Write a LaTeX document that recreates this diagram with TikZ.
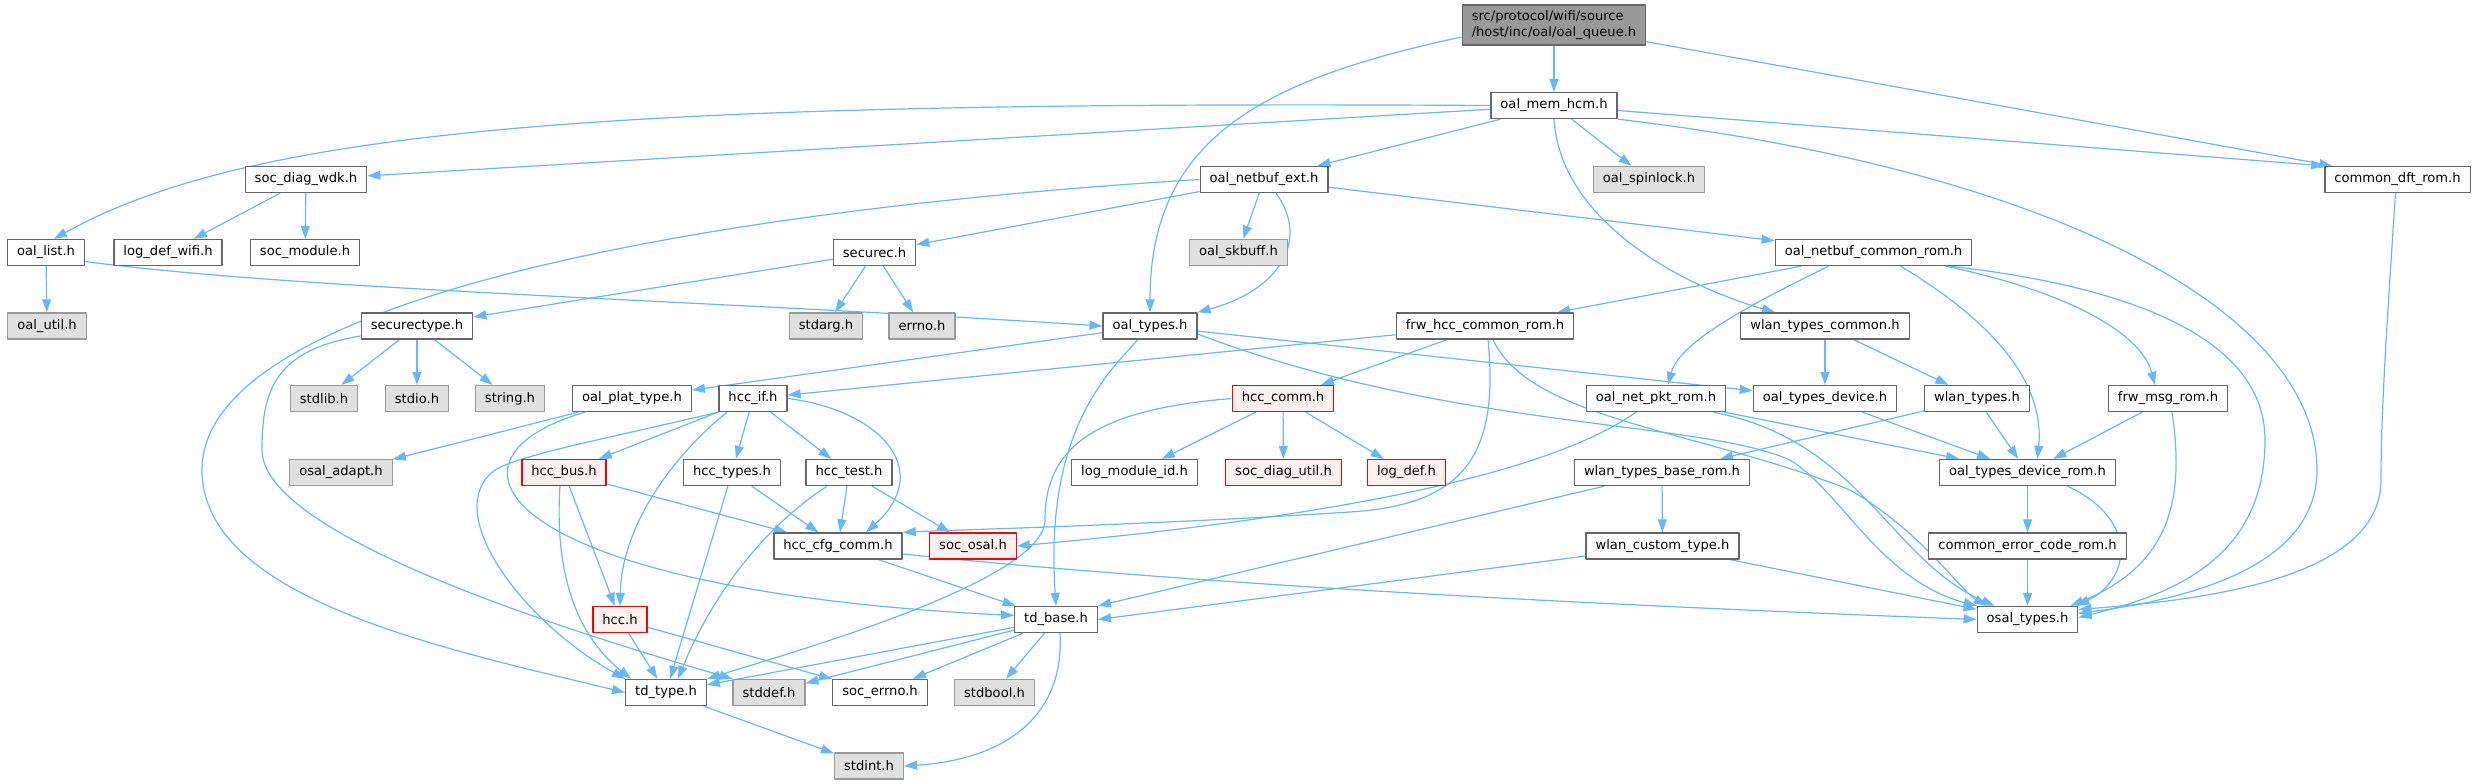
\documentclass[tikz,border=0pt]{standalone}
\usepackage{fontspec}
\setmainfont{DejaVu Sans}
\usepackage{tikz}
\usetikzlibrary{arrows.meta, backgrounds}
\usepackage{xcolor}
\definecolor{incblue}{HTML}{63B8FF}
\definecolor{hdrborder}{HTML}{666666}
\definecolor{sysborder}{HTML}{999999}
\definecolor{sysfill}{HTML}{E0E0E0}
\definecolor{cutborder}{HTML}{FF0000}
\definecolor{cutfill}{HTML}{FFF0F0}
\definecolor{rootfill}{HTML}{999999}

\begin{document}
\begin{tikzpicture}[x=1pt, y=-1pt, line cap=round, line join=round, >={Triangle[length=13pt,width=9pt]},
	hdr/.style={draw=hdrborder, fill=white, line width=1.3pt, inner xsep=9.5pt, inner ysep=3pt, minimum height=26pt, font=\fontsize{13.1}{15.3}\selectfont},
	sys/.style={hdr, draw=sysborder, fill=sysfill},
	cut/.style={hdr, draw=cutborder, fill=cutfill},
	root/.style={hdr, fill=rootfill, minimum height=40pt, align=left},
	inc/.style={->, draw=incblue, line width=1.2pt}]
	\useasboundingbox (0,0) rectangle (2477,784);

	% header files
	\node[root] (top) at (1554,25) {src/protocol/wifi/source\\/host/inc/oal/oal\_queue.h};
	\node[hdr] (memhcm) at (1554,105.5) {oal\_mem\_hcm.h};

	\node[hdr] (socdiagwdk) at (306,179.5) {soc\_diag\_wdk.h};
	\node[hdr] (netbufext) at (1264,179.5) {oal\_netbuf\_ext.h};
	\node[sys] (spinlock) at (1649,179.5) {oal\_spinlock.h};
	\node[hdr] (dftrom) at (2397.5,179.5) {common\_dft\_rom.h};

	\node[hdr] (oallist) at (46,252.5) {oal\_list.h};
	\node[hdr] (logdefwifi) at (168,252.5) {log\_def\_wifi.h};
	\node[hdr] (socmodule) at (305,252.5) {soc\_module.h};
	\node[hdr] (securec) at (874.5,252.5) {securec.h};
	\node[sys] (skbuff) at (1238.5,252.5) {oal\_skbuff.h};
	\node[hdr] (netbufcommon) at (1873.5,252.5) {oal\_netbuf\_common\_rom.h};

	\node[sys] (oalutil) at (47,326) {oal\_util.h};
	\node[hdr] (securectype) at (417,326) {securectype.h};
	\node[sys] (stdarg) at (826,326) {stdarg.h};
	\node[sys] (errno) at (922,326) {errno.h};
	\node[hdr] (oaltypes) at (1150,326) {oal\_types.h};
	\node[hdr] (frwhcc) at (1485,326) {frw\_hcc\_common\_rom.h};
	\node[hdr] (wlancommon) at (1825,326) {wlan\_types\_common.h};

	\node[sys] (stdlib) at (324,398.5) {stdlib.h};
	\node[sys] (stdio) at (417,398.5) {stdio.h};
	\node[sys] (string) at (510,398.5) {string.h};
	\node[hdr] (plattype) at (632,398.5) {oal\_plat\_type.h};
	\node[hdr] (hccif) at (753,398.5) {hcc\_if.h};
	\node[cut] (hcccomm) at (1283,398.5) {hcc\_comm.h};
	\node[hdr] (netpkt) at (1656,398.5) {oal\_net\_pkt\_rom.h};
	\node[hdr] (typesdevice) at (1825,398.5) {oal\_types\_device.h};
	\node[hdr] (wlantypes) at (1977,398.5) {wlan\_types.h};
	\node[hdr] (frwmsg) at (2168,398.5) {frw\_msg\_rom.h};

	\node[sys] (osaladapt) at (341,472.5) {osal\_adapt.h};
	\node[cut] (hccbus) at (564,472.5) {hcc\_bus.h};
	\node[hdr] (hcctypes) at (732,472.5) {hcc\_types.h};
	\node[hdr] (hcctest) at (849,472.5) {hcc\_test.h};
	\node[hdr] (logmodule) at (1134.5,472.5) {log\_module\_id.h};
	\node[cut] (socdiagutil) at (1283.5,472.5) {soc\_diag\_util.h};
	\node[cut] (logdef) at (1406.5,472.5) {log\_def.h};
	\node[hdr] (wlanbase) at (1662,472.5) {wlan\_types\_base\_rom.h};
	\node[hdr] (devicerom) at (2027.5,472.5) {oal\_types\_device\_rom.h};

	\node[hdr] (hcccfg) at (838,546) {hcc\_cfg\_comm.h};
	\node[cut] (socosal) at (973,546) {soc\_osal.h};
	\node[hdr] (wlancustom) at (1662.5,546) {wlan\_custom\_type.h};
	\node[hdr] (errcode) at (2027.5,546) {common\_error\_code\_rom.h};

	\node[cut] (hcch) at (620,619.5) {hcc.h};
	\node[hdr] (tdbase) at (1056,619.5) {td\_base.h};
	\node[hdr] (osaltypes) at (2027.5,619.5) {osal\_types.h};

	\node[hdr] (tdtype) at (666,692.5) {td\_type.h};
	\node[sys] (stddef) at (769,692.5) {stddef.h};
	\node[hdr] (socerrno) at (880,692.5) {soc\_errno.h};
	\node[sys] (stdbool) at (994.5,692.5) {stdbool.h};

	\node[sys] (stdint) at (869,766) {stdint.h};

	\begin{scope}[on background layer]
	% straight includes
	\foreach \src/\dst in {top/memhcm, memhcm/socdiagwdk, memhcm/netbufext, memhcm/spinlock,
		socdiagwdk/logdefwifi, socdiagwdk/socmodule, oallist/oalutil,
		netbufext/securec, netbufext/skbuff, netbufext/netbufcommon,
		securec/securectype, securec/stdarg, securec/errno,
		securectype/stdlib, securectype/stdio, securectype/string,
		oaltypes/plattype, oaltypes/typesdevice, frwhcc/hccif, frwhcc/hcccomm,
		wlancommon/typesdevice, wlancommon/wlantypes, netbufcommon/frwhcc,
		hccif/hccbus, hccif/hcctypes, hccif/hcctest, plattype/osaladapt,
		hcccomm/logmodule, hcccomm/socdiagutil, hcccomm/logdef,
		netpkt/devicerom, typesdevice/devicerom, wlantypes/wlanbase, wlantypes/devicerom, frwmsg/devicerom,
		hccbus/hcccfg, hccbus/hcch, hcctypes/hcccfg, hcctypes/tdtype, hcctest/hcccfg, hcctest/socosal,
		wlanbase/wlancustom, devicerom/errcode, hcccfg/tdbase, wlancustom/osaltypes, errcode/osaltypes,
		hcch/tdtype, hcch/socerrno, tdbase/tdtype, tdbase/stddef, tdbase/socerrno, tdbase/stdbool, tdtype/stdint}
		\draw[inc] (\src) -- (\dst);

	\draw[inc] (top) -- ([xshift=8pt]dftrom.north west);
	\draw[inc] (memhcm) -- (dftrom.north west);
	\draw[inc] (wlanbase) -- (tdbase.north east);
	\draw[inc] (wlancustom) -- (tdbase.east);

	% curved includes
	\draw[inc] ([yshift=-12pt]top.west) .. controls (1260,80) and (1150,140) .. (oaltypes.north);
	\draw[inc] (memhcm.west) .. controls (600,100) and (250,130) .. ([xshift=8pt]oallist.north);
	\draw[inc] (memhcm.south) .. controls (1560,220) and (1680,285) .. ([xshift=-50pt]wlancommon.north);
	\draw[inc] (memhcm.south east) .. controls (2050,170) and (2317,310) .. (2317,470) .. controls (2317,570) and (2180,600) .. ([yshift=6pt]osaltypes.east);
	\draw[inc] ([yshift=-9pt]oallist.east) .. controls (300,290) and (700,300) .. (oaltypes.west);
	\draw[inc] ([xshift=12pt]netbufext.south) .. controls (1310,240) and (1280,290) .. (oaltypes.north east);
	\draw[inc] (netbufext.west) .. controls (700,210) and (202,300) .. (202,470) .. controls (202,600) and (450,650) .. (tdtype.west);
	\draw[inc] ([yshift=-10pt]securectype.west) .. controls (275,350) and (262,390) .. (262,450) .. controls (262,540) and (600,640) .. (stddef.north west);
	\draw[inc] ([xshift=-12pt]oaltypes.south) .. controls (1100,380) and (1045,440) .. (tdbase.north);
	\draw[inc] ([yshift=-8pt]oaltypes.east) .. controls (1450,430) and (1700,420) .. (1790,460) .. controls (1840,490) and (1880,580) .. (osaltypes.north west);
	\draw[inc] ([xshift=8pt]frwhcc.south) .. controls (1530,420) and (1700,430) .. (1850,490) .. controls (1920,530) and (1960,590) .. ([xshift=10pt]osaltypes.north west);
	\draw[inc] ([xshift=3pt]frwhcc.south) .. controls (1500,460) and (1460,505) .. (1350,512) .. controls (1150,525) and (950,530) .. (hcccfg.north east);
	\draw[inc] ([xshift=-45pt]netbufcommon.south) .. controls (1760,300) and (1680,340) .. ([xshift=12pt]netpkt.north);
	\draw[inc] ([xshift=27pt]netbufcommon.south) .. controls (1990,320) and (2045,380) .. ([xshift=10pt]devicerom.north);
	\draw[inc] ([xshift=72pt]netbufcommon.south) .. controls (2060,290) and (2140,330) .. ([xshift=-13pt]frwmsg.north);
	\draw[inc] ([xshift=76pt]netbufcommon.south) .. controls (2160,290) and (2265,350) .. (2265,440) .. controls (2265,560) and (2170,595) .. ([yshift=2pt]osaltypes.east);
	\draw[inc] (hccif.east) .. controls (880,410) and (935,470) .. ([xshift=28pt]hcccfg.north);
	\draw[inc] ([xshift=-26pt]hccif.south) .. controls (680,450) and (622,520) .. (hcch.north);
	\draw[inc] (hccif.south west) .. controls (600,440) and (520,455) .. (495,470) .. controls (440,510) and (520,620) .. (tdtype.north west);
	\draw[inc] ([xshift=-47pt]plattype.south) .. controls (420,460) and (500,590) .. ([yshift=4pt]tdbase.west);
	\draw[inc] (hcccomm.west) .. controls (1090,410) and (1045,450) .. (1045,520) .. controls (1045,580) and (800,650) .. (tdtype.north east);
	\draw[inc] ([xshift=-20pt]netpkt.south) .. controls (1540,480) and (1300,520) .. (socosal.east);
	\draw[inc] ([xshift=57pt]netpkt.south) .. controls (1860,440) and (1890,560) .. ([xshift=18pt]osaltypes.north west);
	\draw[inc] ([xshift=4pt]frwmsg.south) .. controls (2185,500) and (2170,565) .. ([xshift=-8pt]osaltypes.north east);
	\draw[inc] ([xshift=-4pt]hccbus.south) .. controls (555,560) and (570,630) .. ([xshift=6pt]tdtype.north west);
	\draw[inc] ([xshift=-22pt]hcctest.south) .. controls (760,530) and (710,600) .. ([xshift=12pt]tdtype.north);
	\draw[inc] ([yshift=-8pt]hcccfg.east) .. controls (1200,585) and (1600,605) .. (osaltypes.west);
	\draw[inc] ([xshift=40pt]devicerom.south) .. controls (2140,520) and (2130,580) .. ([xshift=-2pt]osaltypes.north east);
	\draw[inc] ([xshift=4pt]tdbase.south) .. controls (1065,720) and (1000,760) .. (stdint.east);
	\draw[inc] ([xshift=-2pt]dftrom.south) .. controls (2385,350) and (2381,420) .. (2381,480) .. controls (2381,580) and (2200,600) .. ([yshift=10pt]osaltypes.east);
	\end{scope}

	\end{tikzpicture}
\end{document}
